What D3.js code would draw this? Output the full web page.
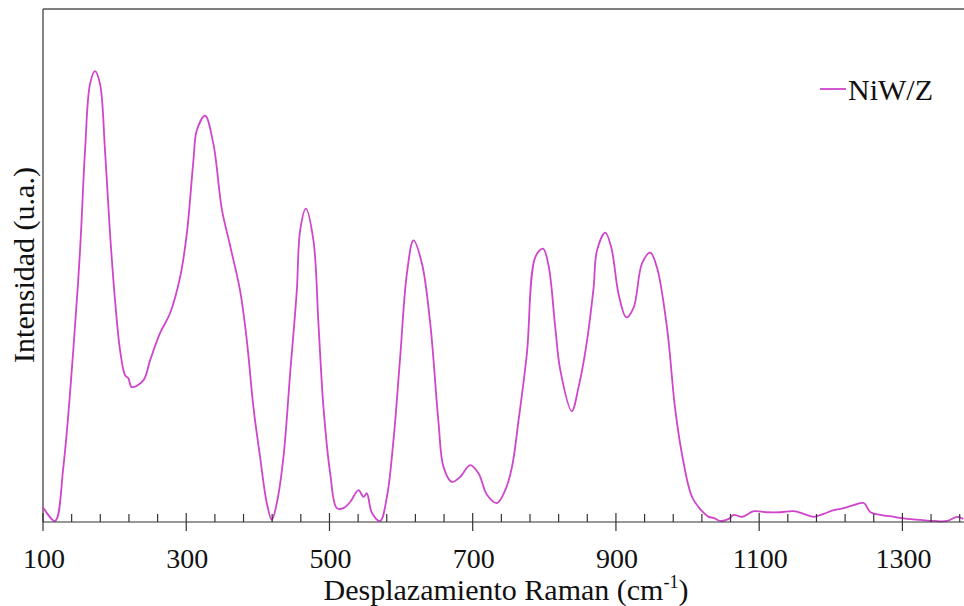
<!DOCTYPE html>
<html>
<head>
<meta charset="utf-8">
<script src="https://cdn.jsdelivr.net/npm/d3@7/dist/d3.min.js"></script>
<style>
  html, body { margin: 0; padding: 0; background: #fff; }
  svg { display: block; }
  text { font-family: "Liberation Serif", "Times New Roman", serif; fill: #111; }
</style>
</head>
<body>
<svg id="chart" width="964" height="606"></svg>
<script>
// Raman spectrum of the NiW/Z sample (Raman shift in cm-1, intensity in arbitrary units)
const ramanShift = [
  100, 116.8, 128.4, 142.3, 151.7, 158.7, 165.7, 172.6, 179.6, 186.6,
  193.6, 200.6, 207.6, 214.6, 219.2, 223.9, 240.1, 249.5, 263.4, 277.4,
  291.4, 300.8, 310.0, 314.7, 326.3, 337.9, 349.7, 361.2, 375.2, 384.6,
  393.8, 403.2, 412.5, 419.5, 426.5, 435.7, 445.1, 454.4, 459.0, 467.0,
  477.6, 484.6, 491.6, 501.0, 510.3, 519.5, 528.9, 540.5, 547.5, 552.2,
  559.2, 570.8, 580.2, 589.4, 598.7, 608.1, 617.3, 629.1, 640.7, 652.3,
  659.3, 671.0, 682.6, 696.5, 708.1, 719.9, 733.8, 745.4, 754.8, 764.0,
  775.7, 787.3, 798.1, 805.9, 815.3, 822.3, 838.3, 847.8, 858.6, 868.8,
  873.5, 885.1, 893.5, 904.0, 914.5, 924.7, 936.4, 948.0, 957.3, 971.3,
  982.9, 994.5, 1006.2, 1020.2, 1029.4, 1036.4, 1045.8, 1057.4, 1064.4, 1076.1,
  1092.3, 1111.0, 1129.6, 1148.2, 1162.1, 1176.1, 1190.1, 1204.1, 1218.0, 1232.0,
  1246.0, 1255.3, 1269.3, 1287.9, 1306.6, 1325.2, 1343.8, 1362.5, 1376.5, 1385.2
];
const intensity = [
  2.9, 0.2, 10.7, 33.5, 52.9, 72.4, 85.4, 87.9, 85.4, 72.4,
  56.2, 43.2, 33.5, 28.6, 28.0, 26.3, 27.6, 31.5, 36.8, 40.7,
  47.7, 56.2, 70.4, 76.3, 79.2, 73.7, 61.0, 53.9, 45.1, 35.4,
  22.4, 12.6, 3.7, 0.4, 3.7, 12.6, 29.0, 45.1, 56.8, 61.1,
  54.9, 38.7, 22.4, 9.5, 2.7, 2.7, 3.9, 6.2, 4.9, 5.6,
  1.8, 0.2, 4.9, 16.0, 32.1, 48.4, 54.9, 50.4, 38.7, 19.3,
  10.7, 7.8, 8.8, 11.1, 9.5, 5.3, 3.7, 6.2, 10.7, 19.8,
  32.9, 51.6, 53.3, 50.0, 37.9, 29.6, 21.6, 26.3, 34.4, 45.7,
  52.9, 56.4, 53.5, 44.2, 39.9, 41.8, 50.4, 52.5, 49.6, 37.9,
  21.8, 11.5, 4.9, 2.1, 1.0, 0.8, 0.2, 0.6, 1.4, 1.0,
  2.1, 1.9, 1.9, 2.1, 1.6, 1.0, 1.6, 2.3, 2.7, 3.3,
  3.7, 1.9, 1.4, 1.0, 0.6, 0.4, 0.2, 0.2, 1.0, 0.6
];
const majorTicks = [100, 300, 500, 700, 900, 1100, 1300];
const seriesName = "NiW/Z";
const xTitle = "Desplazamiento Raman (cm";
const xTitleSup = "-1";
const yTitle = "Intensidad (u.a.)";

const svg = d3.select("#chart");
const margin = { left: 43, right: 0, top: 9, bottom: 84 };
const W = 964, H = 606;
const x0 = margin.left, x1 = W - margin.right;
const y0 = H - margin.bottom, y1 = margin.top;

const x = d3.scaleLinear().domain([100, 1386]).range([x0, x1]);
const y = d3.scaleLinear().domain([0, 100]).range([y0, y1]);

const data = ramanShift.map((v, i) => ({ x: v, y: intensity[i] }));

// frame: left axis and top border
svg.append("line").attr("x1", x0).attr("x2", x0).attr("y1", y1).attr("y2", y0)
  .attr("stroke", "#333").attr("stroke-width", 1.2);
svg.append("line").attr("x1", x0).attr("x2", x1).attr("y1", y1).attr("y2", y1)
  .attr("stroke", "#555").attr("stroke-width", 1.5);

// spectrum
const line = d3.line().x(d => x(d.x)).y(d => y(d.y)).curve(d3.curveCatmullRom.alpha(0.5));
svg.append("path").datum(data)
  .attr("d", line)
  .attr("fill", "none")
  .attr("stroke", "#cf45cc")
  .attr("stroke-width", 1.8)
  .attr("stroke-linejoin", "round");

// bottom axis: minor ticks inward, major ticks crossing the axis
const minorTicks = d3.range(100, 1386, 40).filter(v => !majorTicks.includes(v));
const axisG = svg.append("g");
axisG.append("line").attr("x1", x0).attr("x2", x1).attr("y1", y0).attr("y2", y0)
  .attr("stroke", "#333").attr("stroke-width", 1.2);
axisG.selectAll("line.minor").data(minorTicks).enter().append("line")
  .attr("class", "minor")
  .attr("x1", d => x(d)).attr("x2", d => x(d))
  .attr("y1", y0).attr("y2", y0 - 8)
  .attr("stroke", "#333").attr("stroke-width", 1.2);
axisG.selectAll("line.major").data(majorTicks).enter().append("line")
  .attr("class", "major")
  .attr("x1", d => x(d)).attr("x2", d => x(d))
  .attr("y1", y0 - 9).attr("y2", y0 + 9)
  .attr("stroke", "#333").attr("stroke-width", 1.2);
axisG.selectAll("text.tick").data(majorTicks).enter().append("text")
  .attr("class", "tick")
  .attr("x", d => x(d) + 1).attr("y", y0 + 46)
  .attr("text-anchor", "middle")
  .attr("font-size", 28)
  .text(d => d);

// axis titles
const xt = svg.append("text")
  .attr("x", 506).attr("y", 600)
  .attr("text-anchor", "middle")
  .attr("font-size", 30);
xt.append("tspan").text(xTitle);
xt.append("tspan").attr("font-size", 18).attr("dy", -12).text(xTitleSup);
xt.append("tspan").attr("dy", 12).text(")");

svg.append("text")
  .attr("transform", `translate(34, 265) rotate(-90)`)
  .attr("text-anchor", "middle")
  .attr("font-size", 30)
  .text(yTitle);

// legend
svg.append("line").attr("x1", 820).attr("x2", 846).attr("y1", 89).attr("y2", 89)
  .attr("stroke", "#cf45cc").attr("stroke-width", 1.8);
svg.append("text").attr("x", 848).attr("y", 100).attr("font-size", 30).text(seriesName);
</script>
</body>
</html>
